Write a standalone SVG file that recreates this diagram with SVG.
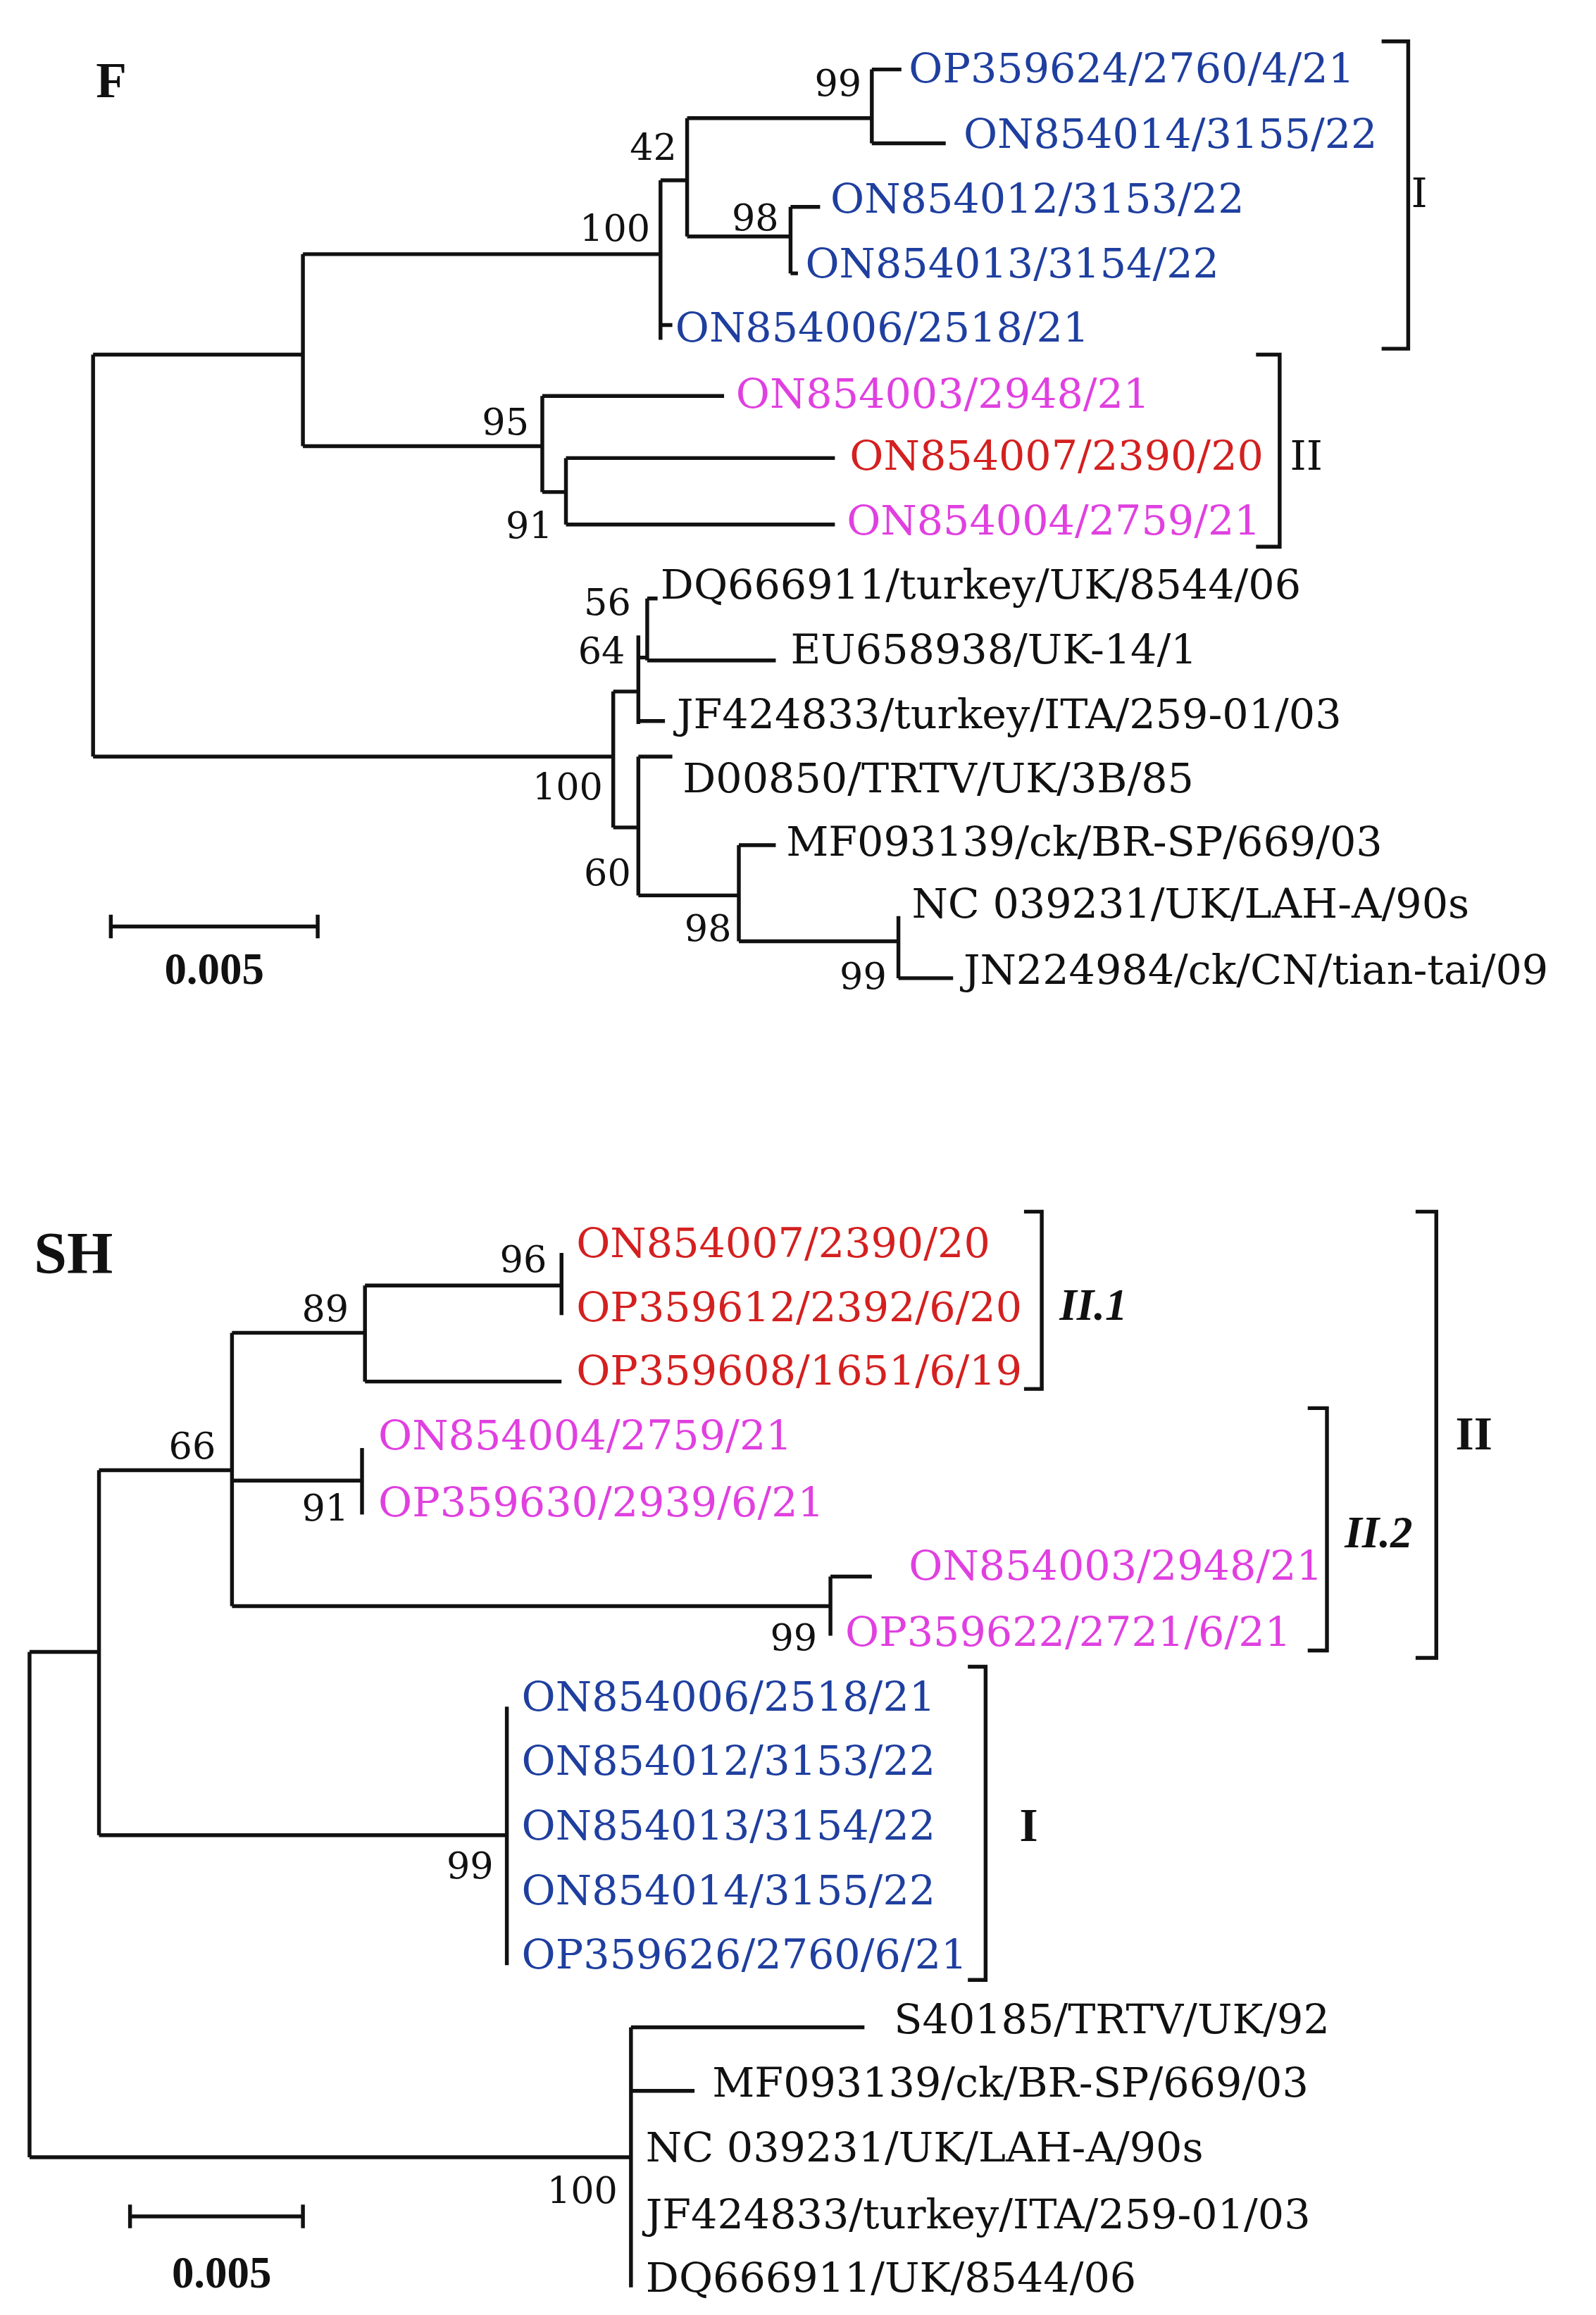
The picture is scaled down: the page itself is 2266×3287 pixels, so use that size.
<svg xmlns="http://www.w3.org/2000/svg" width="2266" height="3287" viewBox="0 0 2266 3287">
<style>
.t{font-family:"DejaVu Serif","Liberation Serif",serif;font-size:28px}
.b{fill:#1f3f9f}.m{fill:#e040e0}.r{fill:#d42020}.k{fill:#111}
.n{font-family:"DejaVu Serif","Liberation Serif",serif;font-size:25px;fill:#111}
.e{text-anchor:end}
.h{font-family:"Liberation Serif",serif;font-weight:bold;fill:#111}
line,polyline,path{stroke:#111;stroke-width:2.6;fill:none}
</style>
<rect width="2266" height="3287" fill="#fff"/>
<g transform="scale(2.098)">
<g id="connectors">
<path d="M590 47V97M590 47H610M590 97H640"/>
<path d="M465 80V160M465 80H590M465 160H535"/>
<path d="M535 140V185M535 140H555M535 185H540"/>
<path d="M447 122V230M447 122H465M447 220H455"/>
<path d="M205 172V302M205 172H447"/>
<path d="M367 268V333M367 268H490M367 333H383"/>
<path d="M383 310V355M383 310H565M383 355H565"/>
<path d="M63 240V512M63 240H205M205 302H367M63 512H415"/>
<path d="M415 468V560"/>
<path d="M432 430V490M415 468H432M432 445H438M432 488H450"/>
<path d="M438 405V447M438 405H445M438 447H525"/>
<path d="M432 512V606M415 560H432M432 512H455M432 606H500"/>
<path d="M500 572V637M500 572H525M500 637H608"/>
<path d="M608 620V662M608 662H645"/>
<path d="M935 28H953V236H935" stroke-width="3"/>
<path d="M850 240H866V370H850"/>
<path d="M75 627H215M75 619V635M215 619V635"/>
<path d="M380 848V890M247 870H380"/>
<path d="M247 870V935M247 935H380M157 902H247"/>
<path d="M157 902V1087M157 1002H245"/>
<path d="M245 980V1025"/>
<path d="M157 1087H562M562 1067V1107M562 1067H590"/>
<path d="M67 995V1242M67 995H157M20 1118H67M67 1242H343"/>
<path d="M343 1155V1330"/>
<path d="M20 1118V1460M20 1460H427"/>
<path d="M427 1372V1548M427 1372H585M427 1415H470"/>
<path d="M693 820H705V940H693" stroke-width="1.8"/>
<path d="M885 953H898V1117H885" stroke-width="1.8"/>
<path d="M958 820H972V1122H958" stroke-width="3"/>
<path d="M655 1128H667V1340H655" stroke-width="3"/>
<path d="M88 1500H205M88 1492V1508M205 1492V1508"/>
</g>
<g id="F">
<text class="h" x="65" y="66" font-size="34">F</text>
<text class="t b" x="615" y="56">OP359624/2760/4/21</text>
<text class="t b" x="652" y="100">ON854014/3155/22</text>
<text class="t b" x="562" y="144">ON854012/3153/22</text>
<text class="t b" x="545" y="188">ON854013/3154/22</text>
<text class="t b" x="457" y="231">ON854006/2518/21</text>
<text class="t m" x="498" y="276">ON854003/2948/21</text>
<text class="t r" x="575" y="318">ON854007/2390/20</text>
<text class="t m" x="573" y="362">ON854004/2759/21</text>
<text class="t k" x="447" y="405">DQ666911/turkey/UK/8544/06</text>
<text class="t k" x="535" y="449">EU658938/UK-14/1</text>
<text class="t k" x="458" y="493">JF424833/turkey/ITA/259-01/03</text>
<text class="t k" x="462" y="536">D00850/TRTV/UK/3B/85</text>
<text class="t k" x="532" y="579">MF093139/ck/BR-SP/669/03</text>
<text class="t k" x="617" y="621">NC 039231/UK/LAH-A/90s</text>
<text class="t k" x="652" y="666">JN224984/ck/CN/tian-tai/09</text>
<text class="n e" x="583" y="65">99</text>
<text class="n e" x="458" y="108">42</text>
<text class="n e" x="527" y="156">98</text>
<text class="n e" x="440" y="163">100</text>
<text class="n e" x="358" y="294">95</text>
<text class="n e" x="374" y="364">91</text>
<text class="n e" x="427" y="416">56</text>
<text class="n e" x="423" y="449">64</text>
<text class="n e" x="408" y="541">100</text>
<text class="n e" x="427" y="599">60</text>
<text class="n e" x="495" y="637">98</text>
<text class="n e" x="600" y="669">99</text>
<text class="t k" x="955" y="140">I</text>
<text class="t k" x="873" y="318">II</text>
<text class="h" x="145" y="666" font-size="30" text-anchor="middle">0.005</text>
</g>
<g id="SH">
<text class="h" x="23" y="862" font-size="40">SH</text>
<text class="t r" x="390" y="851">ON854007/2390/20</text>
<text class="t r" x="390" y="894">OP359612/2392/6/20</text>
<text class="t r" x="390" y="937">OP359608/1651/6/19</text>
<text class="t m" x="256" y="981">ON854004/2759/21</text>
<text class="t m" x="256" y="1026">OP359630/2939/6/21</text>
<text class="t m" x="615" y="1069">ON854003/2948/21</text>
<text class="t m" x="572" y="1114">OP359622/2721/6/21</text>
<text class="t b" x="353" y="1158">ON854006/2518/21</text>
<text class="t b" x="353" y="1201">ON854012/3153/22</text>
<text class="t b" x="353" y="1245">ON854013/3154/22</text>
<text class="t b" x="353" y="1289">ON854014/3155/22</text>
<text class="t b" x="353" y="1332">OP359626/2760/6/21</text>
<text class="t k" x="605" y="1376">S40185/TRTV/UK/92</text>
<text class="t k" x="482" y="1419">MF093139/ck/BR-SP/669/03</text>
<text class="t k" x="437" y="1463">NC 039231/UK/LAH-A/90s</text>
<text class="t k" x="437" y="1508">JF424833/turkey/ITA/259-01/03</text>
<text class="t k" x="437" y="1551">DQ666911/UK/8544/06</text>
<text class="n e" x="370" y="861">96</text>
<text class="n e" x="236" y="894">89</text>
<text class="n e" x="146" y="987">66</text>
<text class="n e" x="236" y="1029">91</text>
<text class="n e" x="553" y="1117">99</text>
<text class="n e" x="334" y="1271">99</text>
<text class="n e" x="418" y="1491">100</text>
<text class="h" x="717" y="893" font-size="30" font-style="italic">II.1</text>
<text class="h" x="910" y="1047" font-size="30" font-style="italic">II.2</text>
<text class="h" x="985" y="981" font-size="32">II</text>
<text class="h" x="690" y="1246" font-size="32">I</text>
<text class="h" x="150" y="1548" font-size="30" text-anchor="middle">0.005</text>
</g>
</g>
</svg>
